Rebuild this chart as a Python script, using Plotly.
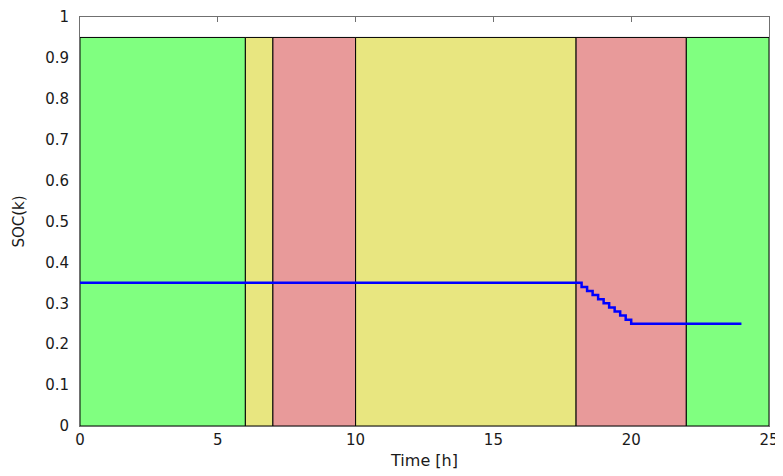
import plotly.graph_objects as go

# Tariff periods (start, end, colour name)
period_start = [0, 6, 7, 10, 18, 22]
period_end = [6, 7, 10, 18, 22, 25]
period_kind = ["green", "yellow", "red", "yellow", "red", "green"]
period_top = 0.95

# SOC trajectory (stairs)
time_h = [0, 18, 18.2, 18.4, 18.6, 18.8, 19, 19.2, 19.4, 19.6, 19.8, 20, 24]
soc = [0.35, 0.35, 0.34, 0.33, 0.32, 0.31, 0.30, 0.29, 0.28, 0.27, 0.26, 0.25, 0.25]

x_ticks = [0, 5, 10, 15, 20, 25]
y_ticks = [0, 0.1, 0.2, 0.3, 0.4, 0.5, 0.6, 0.7, 0.8, 0.9, 1]

colors = {"green": "#80FF80", "yellow": "#E8E680", "red": "#E89A9A"}

fig = go.Figure()

for s, e, k in zip(period_start, period_end, period_kind):
    fig.add_shape(type="rect", xref="x", yref="y", x0=s, x1=e, y0=0, y1=period_top,
                  fillcolor=colors[k], line=dict(color="black", width=1), layer="below")

fig.add_trace(go.Scatter(x=time_h, y=soc, mode="lines", line_shape="hv",
                         line=dict(color="#0000FF", width=2.5), showlegend=False))
# invisible trace for top tick axis
fig.add_trace(go.Scatter(x=[0, 25], y=[0, 0], xaxis="x2", mode="lines",
                         line=dict(width=0), showlegend=False, hoverinfo="skip"))

fig.update_layout(
    width=775, height=468,
    margin=dict(l=72, r=14, t=9, b=50),
    paper_bgcolor="white", plot_bgcolor="white",
    font=dict(family="DejaVu Sans, Liberation Sans, Arial, sans-serif", size=15, color="#1a1a1a"),
    xaxis=dict(range=[0, 25], tickvals=x_ticks, showgrid=False, zeroline=False,
               showline=True, linecolor="#707070", linewidth=1, mirror=True,
               ticks="", automargin=False, ticklabelstandoff=0,
               title=dict(text="Time [h]", font=dict(size=16), standoff=6)),
    xaxis2=dict(range=[0, 25], tickvals=x_ticks, overlaying="x", side="top",
                showgrid=False, zeroline=False, showline=False, showticklabels=False,
                ticks="inside", ticklen=5, tickcolor="#707070"),
    yaxis=dict(range=[0, 1], tickvals=y_ticks, showgrid=False, zeroline=False,
               showline=True, linecolor="#707070", linewidth=1, mirror=True,
               ticks="", ticklabelstandoff=7, automargin=False,
               title=dict(text="SOC(k)", font=dict(size=15), standoff=16)),
)

fig.write_html("out.html")
